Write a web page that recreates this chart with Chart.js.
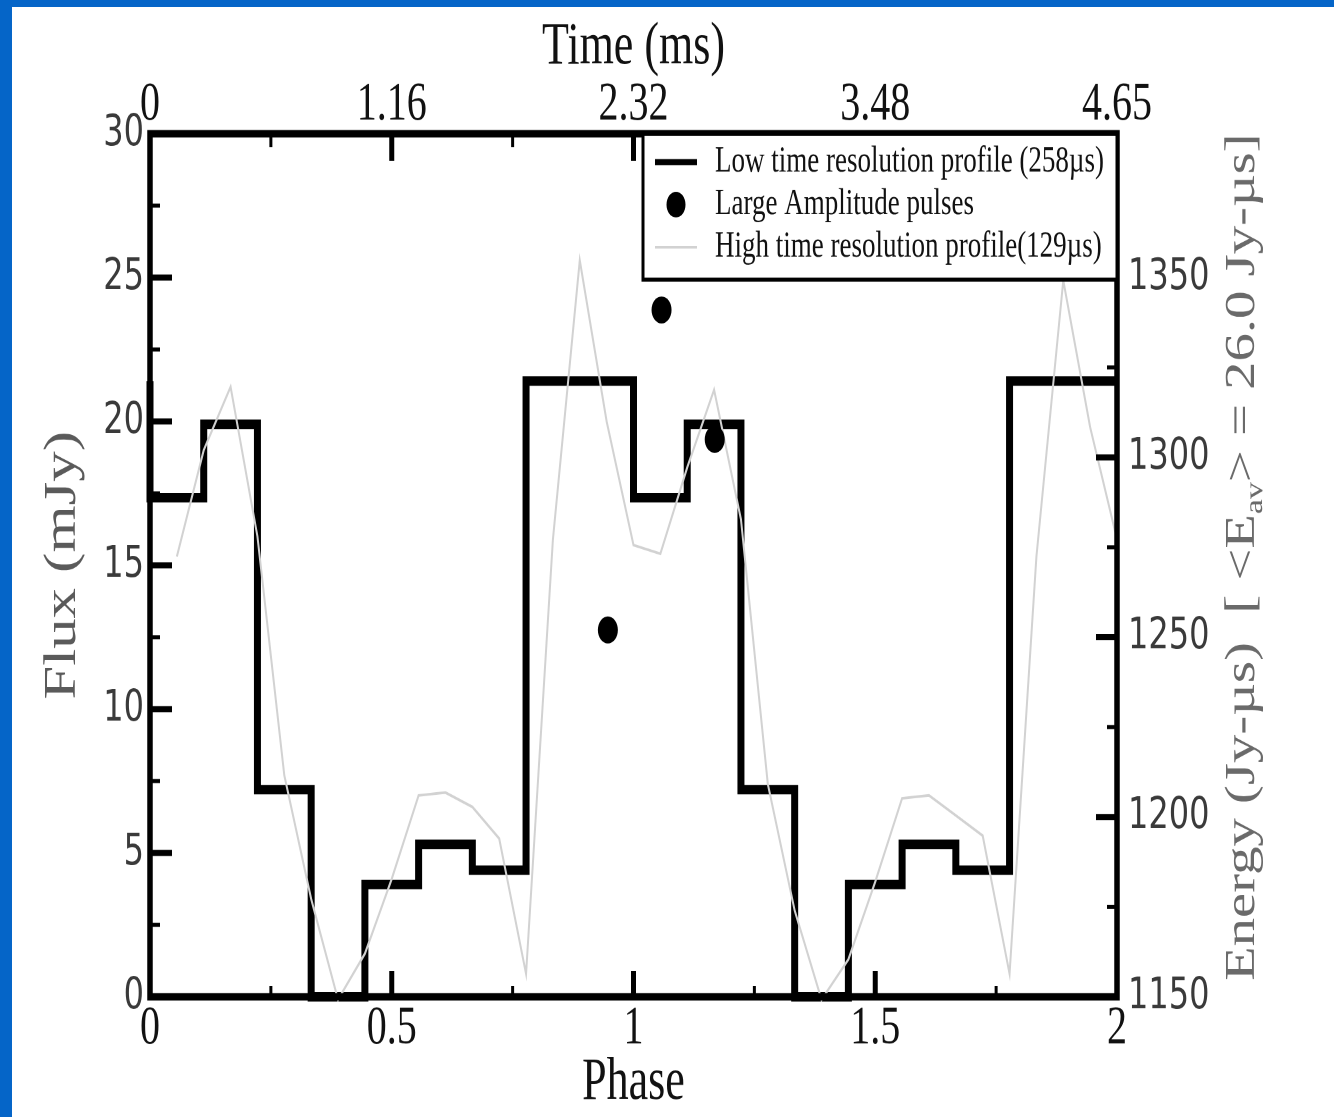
<!DOCTYPE html>
<html>
<head>
<meta charset="utf-8">
<title>Pulse profile</title>
<script src="https://cdn.jsdelivr.net/npm/chart.js@4.4.1/dist/chart.umd.min.js"></script>
<style>
  html, body { margin: 0; padding: 0; }
  body { width: 1334px; height: 1117px; background: #0565c8; position: relative; overflow: hidden; }
  #sheet { position: absolute; left: 12px; top: 7px; right: 0; bottom: 0; background: #fff; }
  /* the figure is drawn at 1334x827 and stretched vertically to fill the sheet */
  #stage { position: absolute; left: 0; top: 0; width: 1334px; height: 827px;
           transform: scaleY(1.35066); transform-origin: 0 0; }
</style>
</head>
<body>
<div id="sheet"></div>
<div id="stage"><canvas id="chart" width="1334" height="827"></canvas></div>
<script>
// ---- axes ----
const phaseTicks = [0, 0.5, 1, 1.5, 2];
const timeTicks = [0, 1.1625, 2.325, 3.4875, 4.65];
const timeTickLabels = ['0', '1.16', '2.32', '3.48', '4.65'];
const fluxTicks = [0, 5, 10, 15, 20, 25, 30];
const energyTicks = [1150, 1200, 1250, 1300, 1350];

// ---- data (two pulse periods) ----
// 258 µs profile: 9 bins per period (mJy)
const lowResFlux = [17.35, 19.9, 7.2, 0, 3.9, 5.3, 4.4, 21.4, 21.4,
                    17.35, 19.9, 7.2, 0, 3.9, 5.3, 4.4, 21.4, 21.4];
// 129 µs profile: 18 bins per period (mJy), one sample per bin edge k = 1..36
const highResFlux = [15.3, 19.0, 21.2, 16.0, 7.7, 3.4, -0.1, 1.5, 4.1, 7.0, 7.1, 6.6, 5.5, 0.8, 15.9, 25.6, 20.0, 15.7,
                     15.4, 18.4, 21.1, 16.6, 7.4, 3.0, -0.1, 1.3, 4.0, 6.9, 7.0, 6.3, 5.6, 0.8, 15.3, 24.9, 19.8, 15.9];
// large amplitude pulses: phase and energy (Jy-µs)
const pulsePhase = [0.947, 1.058, 1.168];
const pulseEnergy = [1252, 1341, 1305];

const seriesLabels = [
  'Low time resolution profile (258µs)',
  'Large Amplitude pulses',
  'High time resolution profile(129µs)'
];

// ---- point lists for the library ----
const phaseSpan = phaseTicks[phaseTicks.length - 1];
const lowBin = phaseSpan / lowResFlux.length;
const lastLow = lowResFlux[lowResFlux.length - 1];
const lowResPoints = [{ x: 0, y: lastLow }];          // wrap-in from the preceding bin
lowResFlux.forEach((v, i) => lowResPoints.push({ x: i * lowBin, y: v }));
lowResPoints.push({ x: phaseSpan, y: lastLow });

const highBin = phaseSpan / highResFlux.length;
const highResPoints = highResFlux.map((v, i) => ({ x: (i + 1) * highBin, y: v }));
const pulsePoints = pulsePhase.map((p, i) => ({ x: p, y: pulseEnergy[i] }));

const SERIF = '"Liberation Serif", "Times New Roman", serif';
const SANS = '"DejaVu Sans", sans-serif';

const setTicks = values => scale => { scale.ticks = values.map(v => ({ value: v })); };

// inward tick marks and the heavy box round the plot
const framePlugin = {
  id: 'frame',
  afterDatasetsDraw(chart) {
    const { ctx, chartArea: a, scales } = chart;
    const line = (x1, y1, x2, y2, w) => {
      ctx.lineWidth = w; ctx.beginPath(); ctx.moveTo(x1, y1); ctx.lineTo(x2, y2); ctx.stroke();
    };
    const withMinor = (scale) => {
      const t = scale.ticks.map(k => k.value);
      const out = [];
      t.forEach((v, i) => {
        out.push({ v, major: true });
        const next = i < t.length - 1 ? t[i + 1] : v + (v - t[i - 1]);
        const mid = (v + next) / 2;
        if (mid <= scale.max) out.push({ v: mid, major: false });
      });
      return out;
    };
    ctx.save();
    ctx.strokeStyle = '#000';
    ctx.lineCap = 'butt';
    withMinor(scales.x).forEach(t => {
      const px = scales.x.getPixelForValue(t.v);
      line(px, a.bottom, px, a.bottom - (t.major ? 19 : 8), t.major ? 5 : 3);
    });
    withMinor(scales.xTime).forEach(t => {
      const px = scales.xTime.getPixelForValue(t.v);
      line(px, a.top, px, a.top + (t.major ? 20 : 10), t.major ? 5 : 3);
    });
    withMinor(scales.y).forEach(t => {
      const py = scales.y.getPixelForValue(t.v);
      line(a.left, py, a.left + (t.major ? 22 : 10), py, t.major ? 4.4 : 3);
    });
    withMinor(scales.yE).forEach(t => {
      const py = scales.yE.getPixelForValue(t.v);
      line(a.right, py, a.right - (t.major ? 21 : 10), py, t.major ? 4.4 : 3);
    });
    ctx.lineWidth = 5.5;
    ctx.strokeRect(a.left, a.top, a.right - a.left, a.bottom - a.top);
    ctx.restore();
  }
};

// axis titles and the legend box
const decorPlugin = {
  id: 'decor',
  afterDraw(chart) {
    const { ctx, chartArea: a, data } = chart;
    const cx = (a.left + a.right) / 2;
    const cy = (a.top + a.bottom) / 2;
    ctx.save();
    ctx.textAlign = 'center';
    ctx.textBaseline = 'middle';
    ctx.fillStyle = '#111';
    ctx.font = `44px ${SERIF}`;
    ctx.fillText('Time (ms)', cx, a.top - 63.5);
    ctx.fillText('Phase', cx, a.bottom + 64);

    ctx.save();
    ctx.translate(a.left - 87, cy);
    ctx.rotate(-Math.PI / 2);
    ctx.fillStyle = '#5a5a5a';
    ctx.font = `45px ${SERIF}`;
    ctx.fillText('Flux (mJy)', 0, 0);
    ctx.restore();

    // right title with subscript "av"
    ctx.save();
    ctx.translate(a.right + 123, cy - 6);
    ctx.rotate(-Math.PI / 2);
    ctx.fillStyle = '#6a6a6a';
    const parts = [
      ['Energy (Jy-µs)  [ <E', `42px ${SERIF}`, 0],
      ['av', `25px ${SERIF}`, 8],
      ['> = 26.0 Jy-µs]', `42px ${SERIF}`, 0]
    ];
    let total = 0;
    parts.forEach(p => { ctx.font = p[1]; total += ctx.measureText(p[0]).width; });
    let x = -total / 2;
    ctx.textAlign = 'left';
    ctx.textBaseline = 'alphabetic';
    parts.forEach(p => {
      ctx.font = p[1];
      ctx.fillText(p[0], x, 14 + p[2]);
      x += ctx.measureText(p[0]).width;
    });
    ctx.restore();

    // legend
    const box = { left: a.right - 474, top: a.top, right: a.right, bottom: a.top + 108 };
    ctx.fillStyle = '#fff';
    ctx.fillRect(box.left, box.top, box.right - box.left, box.bottom - box.top);
    ctx.strokeStyle = '#000';
    ctx.lineWidth = 3;
    ctx.strokeRect(box.left, box.top, box.right - box.left, box.bottom - box.top);
    const rows = [21, 52.5, 84];
    const sx0 = box.left + 12, sx1 = box.left + 54;
    const dsLow = data.datasets[0], dsPulse = data.datasets[1], dsHigh = data.datasets[2];
    ctx.lineCap = 'butt';
    // row 1: thick step line
    ctx.strokeStyle = dsLow.borderColor; ctx.lineWidth = 4.6;
    ctx.beginPath(); ctx.moveTo(sx0, box.top + rows[0]); ctx.lineTo(sx1, box.top + rows[0]); ctx.stroke();
    // row 2: dot
    ctx.fillStyle = dsPulse.backgroundColor;
    ctx.beginPath(); ctx.arc((sx0 + sx1) / 2, box.top + rows[1], 9.5, 0, Math.PI * 2); ctx.fill();
    // row 3: thin grey line
    ctx.strokeStyle = dsHigh.borderColor; ctx.lineWidth = 2;
    ctx.beginPath(); ctx.moveTo(sx0, box.top + rows[2]); ctx.lineTo(sx1, box.top + rows[2]); ctx.stroke();
    ctx.fillStyle = '#111';
    ctx.font = `27px ${SERIF}`;
    ctx.textAlign = 'left';
    ctx.textBaseline = 'middle';
    [dsLow, dsPulse, dsHigh].forEach((ds, i) => ctx.fillText(ds.label, box.left + 72, box.top + rows[i]));
    ctx.restore();
  }
};

new Chart(document.getElementById('chart'), {
  type: 'line',
  data: {
    datasets: [
      {
        label: seriesLabels[0],
        data: lowResPoints,
        xAxisID: 'x', yAxisID: 'y',
        stepped: true,
        borderColor: '#000',
        borderWidth: 7,
        pointRadius: 0,
        fill: false,
        clip: 8,
        order: 3
      },
      {
        label: seriesLabels[1],
        type: 'scatter',
        data: pulsePoints,
        xAxisID: 'x', yAxisID: 'yE',
        showLine: false,
        pointStyle: 'circle',
        pointRadius: 10,
        backgroundColor: '#000',
        borderColor: '#000',
        borderWidth: 0,
        clip: false,
        order: 1
      },
      {
        label: seriesLabels[2],
        data: highResPoints,
        xAxisID: 'x', yAxisID: 'y',
        borderColor: '#d2d2d2',
        borderWidth: 2,
        tension: 0,
        pointRadius: 0,
        fill: false,
        clip: 4,
        order: 2
      }
    ]
  },
  options: {
    responsive: false,
    animation: false,
    devicePixelRatio: 2,
    layout: { padding: 0 },
    plugins: { legend: { display: false }, tooltip: { enabled: false } },
    scales: {
      x: {
        type: 'linear', position: 'bottom', min: 0, max: 2,
        afterBuildTicks: setTicks(phaseTicks),
        afterFit: s => { s.height = 89; },
        grid: { display: false, drawTicks: false }, border: { display: false },
        ticks: { font: { family: SERIF, size: 40, lineHeight: 1 }, color: '#111', padding: 4,
                 autoSkip: false, maxRotation: 0, callback: v => String(v) }
      },
      xTime: {
        type: 'linear', position: 'top', min: 0, max: 4.65,
        afterBuildTicks: setTicks(timeTicks),
        afterFit: s => { s.height = 99; },
        grid: { display: false, drawTicks: false }, border: { display: false },
        ticks: { font: { family: SERIF, size: 40, lineHeight: 1 }, color: '#111', padding: 1,
                 autoSkip: false, maxRotation: 0, callback: (v, i) => timeTickLabels[i] }
      },
      y: {
        type: 'linear', position: 'left', min: 0, max: 30,
        afterBuildTicks: setTicks(fluxTicks),
        afterFit: s => { s.width = 150; },
        grid: { display: false, drawTicks: false }, border: { display: false },
        ticks: { font: { family: SANS, size: 32 }, color: '#3a3a3a', padding: 6, autoSkip: false,
                 callback: v => String(v) }
      },
      yE: {
        type: 'linear', position: 'right', min: 1150, max: 1390,
        afterBuildTicks: setTicks(energyTicks),
        afterFit: s => { s.width = 217; },
        grid: { display: false, drawTicks: false }, border: { display: false },
        ticks: { font: { family: SANS, size: 32 }, color: '#3a3a3a', padding: 11, autoSkip: false,
                 callback: v => String(v) }
      }
    }
  },
  plugins: [framePlugin, decorPlugin]
});
</script>
</body>
</html>
